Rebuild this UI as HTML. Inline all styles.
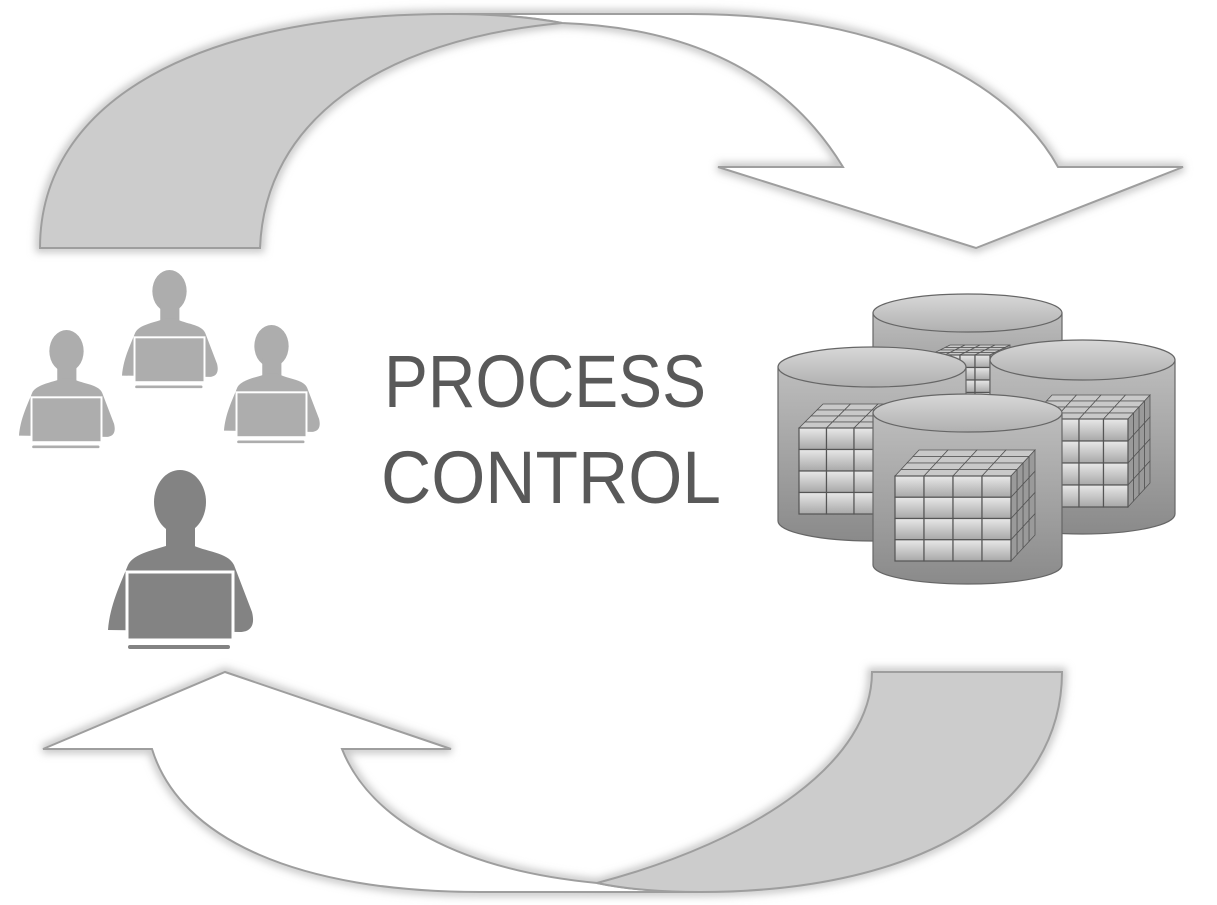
<!DOCTYPE html>
<html><head><meta charset="utf-8"><style>
html,body{margin:0;padding:0;background:#fff;width:1217px;height:905px;overflow:hidden}
</style></head><body>
<svg id="s" width="1217" height="905" viewBox="0 0 1217 905" xmlns="http://www.w3.org/2000/svg">
<defs>
<filter id="sh" x="-10%" y="-10%" width="120%" height="120%"><feGaussianBlur stdDeviation="4"/></filter>
<linearGradient id="cyl" x1="0" y1="0" x2="0" y2="1"><stop offset="0" stop-color="#bdbdbd"/><stop offset="1" stop-color="#8a8a8a"/></linearGradient>
<linearGradient id="top" x1="0" y1="0" x2="0" y2="1"><stop offset="0" stop-color="#d8d8d8"/><stop offset="1" stop-color="#b0b0b0"/></linearGradient>
<linearGradient id="cell" x1="0" y1="0" x2="0" y2="1"><stop offset="0" stop-color="#e8e8e8"/><stop offset="1" stop-color="#a8a8a8"/></linearGradient>
<g id="person">
<ellipse cx="180" cy="502" rx="26" ry="32"/>
<rect x="166" y="520" width="29" height="30"/>
<path d="M108,630 C110,605 120,585 128,565 C134,553 155,550 172,544 L190,544 C205,552 228,552 234,565 L252,612 C256,628 248,632 240,632 Z"/>
<rect x="127" y="572" width="106" height="68" stroke="#fff" stroke-width="3"/>
<rect x="128" y="645" width="102" height="4" rx="2"/>
</g>
</defs>
<!-- top arrow -->
<g stroke="#c8c8c8" stroke-width="9" fill="none" filter="url(#sh)">
<path d="M450,14 L690,14 C880,14 1010,80 1058,167 L1183,167 L976,248 L718,167 L843,167 C790,80 700,28 562,23 C530,17 490,14 450,14Z"/>
<path d="M40,248 L260,248 C265,120 380,40 562,23 C520,15 480,14 450,14 C200,14 40,100 40,248Z"/>
<path d="M872,672 L1062,672 C1062,800 930,892 700,892 C670,892 630,890 597,883 C760,840 872,760 872,672Z"/>
<path d="M152,749 L43,749 L225,672 L451,749 L342,749 C370,820 460,870 597,883 C630,890 670,892 700,892 L480,892 C300,892 180,840 152,749Z"/>
</g>
<g stroke="#9e9e9e" stroke-width="2">
<path fill="#fff" d="M450,14 L690,14 C880,14 1010,80 1058,167 L1183,167 L976,248 L718,167 L843,167 C790,80 700,28 562,23 C530,17 490,14 450,14Z"/>
<path fill="#cccccc" d="M40,248 L260,248 C265,120 380,40 562,23 C520,15 480,14 450,14 C200,14 40,100 40,248Z"/>
<path fill="#fff" d="M152,749 L43,749 L225,672 L451,749 L342,749 C370,820 460,870 597,883 C630,890 670,892 700,892 L480,892 C300,892 180,840 152,749Z"/>
<path fill="#cccccc" d="M872,672 L1062,672 C1062,800 930,892 700,892 C670,892 630,890 597,883 C760,840 872,760 872,672Z"/>
</g>
<!-- people -->
<g fill="#adadad">
<use href="#person" transform="translate(120,270) scale(0.66) translate(-105,-470)"/>
<use href="#person" transform="translate(17,330) scale(0.66) translate(-105,-470)"/>
<use href="#person" transform="translate(222,325) scale(0.66) translate(-105,-470)"/>
</g>
<g fill="#838383"><use href="#person"/></g>
<!-- text -->
<g font-family="'Liberation Sans', sans-serif" font-size="74" fill="#595959" text-anchor="middle">
<text x="545" y="407" textLength="322" lengthAdjust="spacingAndGlyphs">PROCESS</text>
<text x="551" y="503" textLength="340" lengthAdjust="spacingAndGlyphs">CONTROL</text>
</g>
<g id="cyls"></g>
</svg>
<script>
var NS="http://www.w3.org/2000/svg",G=document.getElementById("cyls");
function el(t,a,p){var e=document.createElementNS(NS,t);for(var k in a)e.setAttribute(k,a[k]);(p||G).appendChild(e);return e}
function cube(x,y,w,h,dx,dy,p){
 var cw=w/4,ch=h/4,sdx=dx/4,sdy=dy/4;
 // top layers
 for(var r=3;r>=0;r--)for(var c=0;c<4;c++){
  var bx=x+c*cw+sdx*(r+1),by=y-sdy*(r+1);
  el("path",{d:"M"+bx+","+by+" l"+cw+",0 l"+(-sdx)+","+sdy+" l"+(-cw)+",0Z",fill:"#c9c9c9",stroke:"#555","stroke-width":"0.8"},p);
 }
 for(var r=3;r>=0;r--)for(var rr=0;rr<4;rr++){
  var bx=x+w+sdx*r,by=y+rr*ch-sdy*r;
  el("path",{d:"M"+bx+","+by+" l"+sdx+","+(-sdy)+" l0,"+ch+" l"+(-sdx)+","+sdy+"Z",fill:"#9a9a9a",stroke:"#555","stroke-width":"0.8"},p);
 }
 for(var r=0;r<4;r++)for(var c=0;c<4;c++)
  el("rect",{x:x+c*cw,y:y+r*ch,width:cw,height:ch,fill:"url(#cell)",stroke:"#555","stroke-width":"1.2"},p);
}
function cyl(x1,x2,ty,by,ry,cb){
 var g=el("g",{});
 var cx=(x1+x2)/2,rx=(x2-x1)/2;
 el("path",{d:"M"+x1+","+ty+" L"+x1+","+by+" A"+rx+","+ry+" 0 0 0 "+x2+","+by+" L"+x2+","+ty+"Z",fill:"url(#cyl)",stroke:"#666","stroke-width":"1.2"},g);
 if(cb)cb(g);
 el("ellipse",{cx:cx,cy:ty,rx:rx,ry:ry,fill:"url(#top)",stroke:"#666","stroke-width":"1.2"},g);
}
cyl(873,1062,313,400,19,function(g){cube(930,355,60,50,20,10,g)});
cyl(778,966,367,521,20,function(g){cube(799,428,110,86,24,24,g)});
cyl(990,1175,360,514,20,function(g){cube(1030,419,98,88,22,24,g)});
cyl(873,1062,413,565,19,function(g){cube(895,476,116,85,24,26,g)});
</script>
</body></html>
